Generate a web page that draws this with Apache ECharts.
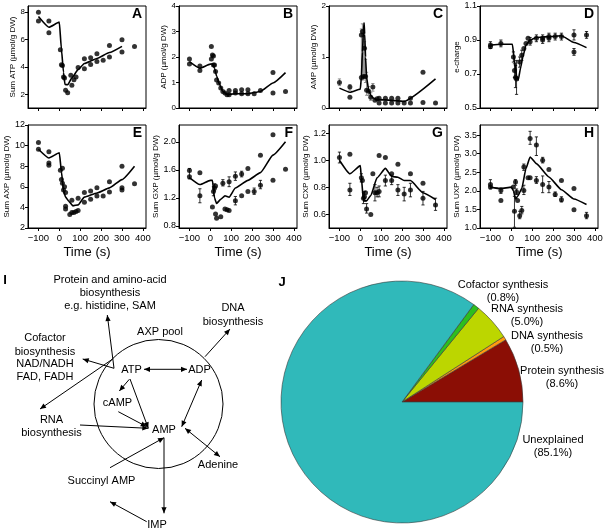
<!DOCTYPE html>
<html><head><meta charset="utf-8">
<script src="https://cdn.jsdelivr.net/npm/echarts@6/dist/echarts.min.js"></script>
<style>html,body{margin:0;padding:0;background:#fff}#c{width:608px;height:530px}</style>
</head><body><div id="c"></div>
<script>
const FONT = "'Liberation Sans', Arial, Helvetica, sans-serif";

// ---------- DATA ----------
const timeTicks = [-100, 0, 100, 200, 300, 400];

// A: Sum ATP
const atpPoints = [[-100,8.0],[-100,7.35],[-50,7.35],[-50,6.5],[5,5.26],[10,4.16],[15,4.1],[20,3.26],[25,3.2],[30,2.3],[40,2.12],[60,2.66],[55,3.4],[70,3.07],[80,3.26],[90,3.95],[120,3.87],[120,4.6],[150,4.67],[150,4.18],[180,4.96],[180,4.4],[210,4.48],[240,4.72],[240,5.57],[300,5.98],[300,5.09],[360,5.5]];
const atpModel = [[-100,7.68],[-50,6.9],[0,7.27],[10,5.3],[20,3.6],[27,2.72],[40,2.7],[60,3.2],[90,3.8],[120,4.25],[180,4.62],[240,5.05],[300,5.5]];
const atpTicks = [2,4,6,8];

// B: ADP
const adpPoints = [[-100,1.92],[-100,1.73],[-50,1.65],[-50,1.47],[5,2.41],[5,1.92],[10,2.08],[15,2.04],[15,1.69],[20,1.69],[25,1.43],[30,1.1],[40,0.98],[50,0.78],[60,0.65],[70,0.59],[80,0.52],[90,0.69],[90,0.52],[120,0.59],[120,0.69],[150,0.72],[150,0.56],[180,0.72],[180,0.56],[210,0.56],[240,0.69],[300,1.39],[300,0.59],[360,0.65]];
const adpModel = [[-100,1.82],[-50,1.56],[0,1.72],[10,1.73],[20,1.56],[30,1.25],[45,0.91],[60,0.65],[80,0.53],[120,0.56],[180,0.56],[240,0.65],[300,0.98],[360,1.39]];
const adpTicks = [0,1,2,3,4];

// C: AMP
const ampPoints = [[-100,0.5],[-50,0.41],[-50,0.21],[5,1.43],[5,0.6],[10,1.5],[15,0.62],[20,1.17],[25,0.62],[30,0.35],[40,0.33],[50,0.21],[60,0.41],[70,0.15],[80,0.18],[90,0.1],[90,0.19],[120,0.19],[120,0.1],[150,0.19],[150,0.1],[180,0.19],[180,0.1],[210,0.1],[240,0.1],[240,0.19],[300,0.7],[300,0.11],[360,0.1]];
const ampModel = [[-100,0.39],[-50,0.31],[0,0.37],[5,0.6],[10,1.1],[15,1.5],[18,1.67],[21,1.45],[25,1.0],[30,0.6],[40,0.35],[50,0.25],[60,0.2],[80,0.16],[120,0.16],[210,0.13],[360,0.57]];
const ampErr = [[-100,0.44,0.57],[-50,0.35,0.46],[5,0.55,1.55],[10,0.6,1.65],[15,0.55,1.35],[20,0.6,1.3],[25,0.5,0.95],[30,0.25,0.7],[40,0.25,0.42],[50,0.15,0.3],[60,0.33,0.48]];
const ampTicks = [0,1,2];

// D: energy charge
const ecPoints = [[-100,0.87],[-100,0.86],[-50,0.88],[10,0.8],[15,0.72],[20,0.68],[25,0.67],[40,0.77],[50,0.81],[60,0.85],[70,0.88],[80,0.91],[90,0.89],[120,0.91],[150,0.91],[150,0.9],[180,0.92],[180,0.91],[210,0.92],[240,0.92],[300,0.93],[300,0.83],[360,0.93]];
const ecModel = [[-100,0.87],[-50,0.875],[5,0.875],[15,0.78],[25,0.69],[33,0.665],[45,0.74],[55,0.8],[70,0.87],[90,0.9],[120,0.915],[180,0.92],[240,0.925],[300,0.885],[360,0.855]];
const ecErr = [[-100,0.85,0.89],[-50,0.86,0.9],[10,0.77,0.83],[15,0.68,0.76],[20,0.62,0.75],[25,0.58,0.78],[40,0.74,0.8],[50,0.78,0.84],[90,0.87,0.915],[120,0.89,0.93],[150,0.88,0.93],[180,0.89,0.94],[210,0.9,0.94],[240,0.9,0.94],[300,0.9,0.96],[300,0.81,0.85],[360,0.91,0.95]];
const ecTicks = [0.5,0.7,0.9,1.1];

// E: Sum AXP
const axpPoints = [[-100,10.3],[-100,9.65],[-50,9.4],[-50,8.3],[-50,8.1],[5,7.6],[10,6.7],[15,7.8],[15,6.35],[20,5.7],[25,6.0],[30,5.45],[30,4.1],[30,3.85],[50,3.3],[60,4.7],[60,3.5],[70,3.5],[80,3.6],[90,4.9],[90,3.7],[120,5.45],[120,4.5],[150,5.6],[150,4.8],[180,5.9],[180,5.1],[210,5.1],[240,6.5],[240,5.5],[300,8.0],[300,5.9],[300,5.7],[360,6.3]];
const axpModel = [[-100,9.65],[-50,8.8],[0,9.3],[10,7.5],[20,5.6],[30,5.0],[45,4.6],[65,4.15],[90,4.25],[120,5.0],[180,5.4],[240,5.9],[300,6.7],[360,8.0]];
const axpTicks = [2,4,6,8,10,12];

// F: Sum GXP
const gxpPoints = [[-100,1.59],[-100,1.5],[-50,1.56],[-50,1.23],[10,1.07],[15,1.29],[20,1.34],[25,1.37],[25,0.97],[30,0.91],[50,0.93],[60,1.41],[70,1.04],[80,1.03],[90,1.02],[90,1.43],[120,1.51],[120,1.16],[150,1.54],[150,1.23],[180,1.62],[180,1.29],[210,1.29],[240,1.81],[240,1.38],[300,2.1],[300,1.45],[360,1.61]];
const gxpModel = [[-100,1.49],[-50,1.39],[0,1.45],[10,1.45],[20,1.2],[30,1.12],[50,1.18],[70,1.23],[90,1.21],[120,1.34],[180,1.45],[240,1.56],[300,1.81],[360,2.0]];
const gxpErr = [[-100,1.47,1.62],[-50,1.13,1.33],[15,1.23,1.36],[20,1.3,1.4],[60,1.37,1.46],[90,1.36,1.5],[120,1.45,1.57],[120,1.1,1.22],[150,1.5,1.58],[210,1.25,1.34],[240,1.33,1.45]];
const gxpTicks = [0.8,1.2,1.6,2.0];

// G: Sum CXP
const cxpPoints = [[-100,1.02],[-50,1.045],[-50,0.78],[5,0.87],[10,0.85],[15,0.72],[20,0.73],[25,0.76],[30,0.64],[50,0.6],[60,0.9],[70,0.76],[80,0.76],[90,1.035],[90,0.77],[120,1.02],[120,0.85],[150,0.9],[150,0.85],[180,0.97],[180,0.78],[210,0.75],[240,0.9],[240,0.78],[300,0.83],[300,0.72],[360,0.67]];
const cxpModel = [[-100,1.0],[-50,0.9],[0,0.96],[5,0.87],[15,0.7],[30,0.7],[50,0.74],[80,0.87],[120,0.94],[150,0.88],[180,0.875],[210,0.85],[240,0.85],[300,0.76],[360,0.71]];
const cxpErr = [[-100,0.98,1.06],[-50,0.74,0.83],[5,0.84,0.9],[15,0.68,0.76],[20,0.7,0.77],[30,0.61,0.68],[70,0.7,0.82],[80,0.73,0.8],[90,0.73,0.81],[120,0.81,0.89],[150,0.82,0.89],[180,0.74,0.82],[210,0.7,0.8],[240,0.73,0.83],[300,0.67,0.77],[360,0.63,0.72]];
const cxpTicks = [0.6,0.8,1.0,1.2];

// H: Sum UXP
const uxpPoints = [[-100,2.17],[-100,2.1],[-50,2.01],[-50,1.74],[10,2.1],[15,1.45],[20,2.24],[25,1.97],[30,1.74],[40,1.33],[50,1.47],[60,2.01],[60,2.64],[80,2.35],[90,2.35],[90,3.41],[120,3.23],[120,2.28],[150,2.82],[150,2.17],[180,2.57],[180,2.1],[210,1.9],[240,2.28],[240,1.76],[300,2.06],[300,1.49],[360,1.33]];
const uxpModel = [[-100,2.1],[-50,2.06],[0,2.1],[10,2.0],[20,1.78],[30,1.85],[50,2.06],[70,2.6],[90,2.91],[120,2.73],[180,2.37],[240,2.03],[300,1.78],[360,1.63]];
const uxpErr = [[-100,2.05,2.3],[-50,1.93,2.08],[15,1.02,1.85],[20,2.15,2.3],[25,1.9,2.05],[40,1.25,1.45],[50,1.38,1.58],[60,1.9,2.15],[60,2.55,2.72],[90,3.25,3.6],[120,2.95,3.45],[120,2.2,2.38],[150,2.75,2.9],[150,1.95,2.4],[180,1.95,2.25],[210,1.85,1.97],[240,1.7,1.84],[360,1.25,1.42]];
const uxpTicks = [1.0,1.5,2.0,2.5,3.0,3.5];

// J: pie
const pieNames = ['Protein synthesis','DNA synthesis','RNA synthesis','Cofactor synthesis','Unexplained'];
const pieValues = [8.6, 0.5, 5.0, 0.8, 85.1];

// ---------- LAYOUT ----------
const panels = [
  {L:'A', name:'Sum ATP (µmol/g DW)', pts:atpPoints, model:atpModel, err:[], ticks:atpTicks, min:1, max:8.45, dec:0, left:28, top:6, h:102, gap:9, fs:8, bottom:false},
  {L:'B', name:'ADP (µmol/g DW)', pts:adpPoints, model:adpModel, err:[], ticks:adpTicks, min:0, max:4, dec:0, left:179, top:6, h:102, gap:9, fs:8, bottom:false},
  {L:'C', name:'AMP (µmol/g DW)', pts:ampPoints, model:ampModel, err:ampErr, errColor:'#777', ticks:ampTicks, min:0, max:2, dec:0, left:329, top:6, h:102, gap:9, fs:8, bottom:false},
  {L:'D', name:'e-charge', pts:ecPoints, model:ecModel, err:ecErr, ticks:ecTicks, min:0.5, max:1.1, dec:1, left:480, top:6, h:102, gap:16, fs:9, bottom:false},
  {L:'E', name:'Sum AXP (µmol/g DW)', pts:axpPoints, model:axpModel, err:[], ticks:axpTicks, min:2, max:12, dec:0, left:28, top:125, h:103, gap:12, fs:9, bottom:true},
  {L:'F', name:'Sum GXP (µmol/g DW)', pts:gxpPoints, model:gxpModel, err:gxpErr, ticks:gxpTicks, min:0.77, max:2.24, dec:1, left:179, top:125, h:103, gap:11, fs:9, bottom:true},
  {L:'G', name:'Sum CXP (µmol/g DW)', pts:cxpPoints, model:cxpModel, err:cxpErr, ticks:cxpTicks, min:0.5, max:1.26, dec:1, left:329, top:125, h:103, gap:15, fs:9, bottom:true},
  {L:'H', name:'Sum UXP (µmol/g DW)', pts:uxpPoints, model:uxpModel, err:uxpErr, ticks:uxpTicks, min:1.0, max:3.77, dec:1, left:480, top:125, h:103, gap:14, fs:9, bottom:true}
];
const W = 118;

const grids = [], xAxes = [], yAxes = [], series = [], graphics = [];

function errRender(color) {
  return function (params, api) {
    const x = api.value(0), lo = api.value(1), hi = api.value(2);
    const p1 = api.coord([x, lo]), p2 = api.coord([x, hi]);
    const c = 1.6;
    const st = {stroke: color, lineWidth: 0.8};
    return {type: 'group', children: [
      {type: 'line', shape: {x1: p1[0], y1: p1[1], x2: p2[0], y2: p2[1]}, style: st},
      {type: 'line', shape: {x1: p1[0]-c, y1: p1[1], x2: p1[0]+c, y2: p1[1]}, style: st},
      {type: 'line', shape: {x1: p2[0]-c, y1: p2[1], x2: p2[0]+c, y2: p2[1]}, style: st}
    ]};
  };
}

panels.forEach((p, i) => {
  grids.push({left: p.left, top: p.top, width: W, height: p.h, show: true, borderColor: '#000', borderWidth: 1, backgroundColor: 'transparent'});
  xAxes.push({
    type: 'value', gridIndex: i, min: -150, max: 415,
    axisLine: {show: true, onZero: false, lineStyle: {color: '#000', width: 1}},
    axisTick: {show: true, customValues: timeTicks, length: 3, lineStyle: {color: '#000'}},
    axisLabel: {show: p.bottom, customValues: timeTicks, fontSize: 9.5, color: '#000', fontFamily: FONT, margin: 5,
      formatter: v => String(v).replace('-', '\u2212')},
    splitLine: {show: false},
    name: p.bottom ? 'Time (s)' : '', nameLocation: 'middle', nameGap: 18,
    nameTextStyle: {fontSize: 13, color: '#000', fontFamily: FONT}
  });
  yAxes.push({
    type: 'value', gridIndex: i, min: p.min, max: p.max,
    axisLine: {show: true, onZero: false, lineStyle: {color: '#000', width: 1}},
    axisTick: {show: true, customValues: p.ticks, length: 3, lineStyle: {color: '#000'}},
    axisLabel: {customValues: p.ticks, fontSize: p.fs, color: '#000', fontFamily: FONT, margin: 3,
      formatter: v => Number(v).toFixed(p.dec)},
    splitLine: {show: false},
    name: p.name, nameLocation: 'middle', nameGap: p.gap,
    nameTextStyle: {fontSize: 8, color: '#000', fontFamily: FONT}
  });
  if (p.err.length) {
    series.push({type: 'custom', xAxisIndex: i, yAxisIndex: i, data: p.err, renderItem: errRender(p.errColor || '#000'), z: 1, silent: true});
  }
  series.push({type: 'line', xAxisIndex: i, yAxisIndex: i, data: p.model, showSymbol: false, smooth: 0.15, smoothMonotone: 'x',
    lineStyle: {color: '#000', width: 1.6}, z: 2, silent: true, animation: false});
  series.push({type: 'scatter', xAxisIndex: i, yAxisIndex: i, data: p.pts, symbolSize: 5,
    itemStyle: {color: '#000'}, z: 3, silent: true, animation: false});
  graphics.push({type: 'text', x: p.left + W - 4, y: p.top + 1, z: 10,
    style: {text: p.L, font: 'bold 14px ' + FONT, fill: '#000', align: 'right', verticalAlign: 'top'}});
});

// ---------- Diagram I ----------
function head(tx, ty, fx, fy) {
  const a = Math.atan2(ty - fy, tx - fx), L = 6, Wd = 2.6;
  const bx = tx - L * Math.cos(a), by = ty - L * Math.sin(a);
  const px = -Math.sin(a) * Wd, py = Math.cos(a) * Wd;
  return {type: 'polygon', shape: {points: [[tx, ty], [bx + px, by + py], [bx - px, by - py]]}, style: {fill: '#000'}};
}
function arrow(x1, y1, x2, y2, both) {
  const els = [{type: 'line', shape: {x1, y1, x2, y2}, style: {stroke: '#000', lineWidth: 1}}];
  els.push(head(x2, y2, x1, y1));
  if (both) els.push(head(x1, y1, x2, y2));
  return els;
}
function txt(s, x, y, bold, size) {
  return {type: 'text', x, y, style: {text: s, font: (bold ? 'bold ' : '') + (size || 11) + 'px ' + FONT, fill: '#000', align: 'center', verticalAlign: 'middle'}};
}
const diagram = [
  txt('I', 5, 280, true, 13),
  txt('J', 282, 282, true, 13),
  {type: 'circle', shape: {cx: 158.5, cy: 404, r: 64.5}, style: {fill: 'none', stroke: '#000', lineWidth: 1}},
  txt('Protein and amino-acid', 110, 280), txt('biosynthesis', 110, 293), txt('e.g. histidine, SAM', 110, 306),
  txt('DNA', 233, 308), txt('biosynthesis', 233, 321.5),
  txt('AXP pool', 160, 332),
  txt('Cofactor', 45, 338), txt('biosynthesis', 45, 351.5), txt('NAD/NADH', 45, 364), txt('FAD, FADH', 45, 376.5),
  txt('ATP', 131.5, 370), txt('ADP', 199.5, 370), txt('cAMP', 117.5, 402.5), txt('AMP', 164, 430),
  txt('RNA', 51.5, 420), txt('biosynthesis', 51.5, 433),
  txt('Adenine', 218, 465), txt('Succinyl AMP', 101.5, 481), txt('IMP', 157, 525)
];
[
  [144, 369.3, 187, 369.3, true],
  [129.3, 379.3, 119.3, 391, false],
  [130, 379, 148.3, 428.3, false],
  [118.3, 411.7, 146.7, 426.7, false],
  [80, 425, 148.3, 428.3, false],
  [201.7, 380, 181.7, 426.7, true],
  [185, 428.3, 220, 456.7, true],
  [110, 467.7, 164, 437.7, false],
  [164, 437.7, 164, 513.3, false],
  [146.7, 521.7, 110, 501.7, false],
  [205, 356.7, 230, 329, false],
  [114, 368.3, 107.3, 315, false],
  [112.7, 359, 40, 409, false],
  [114, 368.3, 82.7, 359, false]
].forEach(a => diagram.push(...arrow(a[0], a[1], a[2], a[3], a[4])));
graphics.push(...diagram);

// ---------- Pie J ----------
const pieColors = ['#8B0E05', '#FF9A10', '#BCD600', '#2DBE1E', '#30B9BA'];
const pieLabelPos = [[562, 377.5], [547, 342.5], [527, 315.5], [503, 291.5], [553, 446.5]];
series.push({
  type: 'pie', center: [402, 402], radius: 121, startAngle: 0, clockwise: false,
  avoidLabelOverlap: false, animation: false, silent: true,
  data: pieNames.map((n, i) => ({name: n, value: pieValues[i], itemStyle: {color: pieColors[i]}})),
  itemStyle: {borderColor: '#3a3a3a', borderWidth: 0.6},
  label: {show: true, position: 'outside', color: '#000', fontSize: 11, lineHeight: 13, fontFamily: FONT, align: 'center',
    formatter: p => p.name + '\n(' + p.value.toFixed(1) + '%)'},
  labelLine: {show: false},
  labelLayout: p => ({x: pieLabelPos[p.dataIndex][0], y: pieLabelPos[p.dataIndex][1], align: 'center', verticalAlign: 'middle'})
});

const chart = echarts.init(document.getElementById('c'), null, {renderer: 'canvas'});
chart.setOption({
  animation: false,
  backgroundColor: '#fff',
  textStyle: {fontFamily: FONT},
  grid: grids, xAxis: xAxes, yAxis: yAxes, series: series, graphic: graphics
});
</script></body></html>
